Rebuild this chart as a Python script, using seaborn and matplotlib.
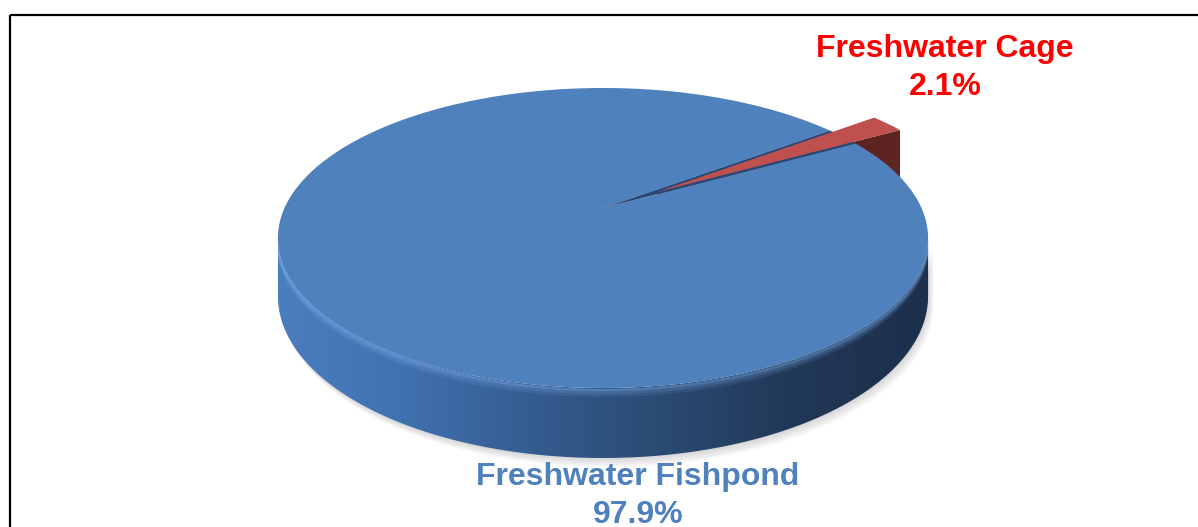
import numpy as np
import matplotlib
matplotlib.use("Agg")
import matplotlib.pyplot as plt
import seaborn as sns
from matplotlib.patches import Polygon, Rectangle
from matplotlib.colors import LinearSegmentedColormap

# ---------------- data ----------------
categories = ["Freshwater Fishpond", "Freshwater Cage"]
shares = [97.9, 2.1]
slice_colors = ["#4F81BD", "#C0504D"]
label_colors = ["#4F81BD", "#FF0000"]

# ---------------- style ----------------
sns.set_theme(style="white")
plt.rcParams['font.family'] = ['Liberation Sans', 'DejaVu Sans']

fig = plt.figure(figsize=(11.98, 5.27), dpi=100)
ax = fig.add_axes([0, 0, 1, 1])
ax.set_xlim(0, 1198)
ax.set_ylim(527, 0)
ax.axis('off')

# perspective projection of a unit disk (u right, v away from viewer)
CX, CY = 603, 208
A, B, K = 318.5, 144.0, 0.2
DEPTH = 56.0


def proj(u, v, z=0.0):
    u = np.asarray(u, float)
    v = np.asarray(v, float)
    w = 1 + K * v
    return CX + A * u / w, CY - B * v / w + z * DEPTH / w


def arc(t0, t1, off=(0.0, 0.0), z=0.0, n=200):
    t = np.radians(np.linspace(t0, t1, n))
    x, y = proj(off[0] + np.cos(t), off[1] + np.sin(t), z)
    return np.column_stack([x, y])


total = sum(shares)
spans = [360.0 * s / total for s in shares]
cage_start = 29.5
cage_end = cage_start + spans[1]
pond_start, pond_end = cage_end, cage_start + 360.0
explode = 0.21
bis = np.radians((cage_start + cage_end) / 2)
off = (explode * np.cos(bis), explode * np.sin(bis))

# silhouette angles of the front wall
t_sil = np.degrees(np.arcsin(-K))
front_t0, front_t1 = t_sil, -180 - t_sil

# ---- shadow ----
top_front = arc(front_t0, front_t1)
bot_front = arc(front_t0, front_t1, z=1.0)
side_poly = np.vstack([top_front, bot_front[::-1]])
for d in range(1, 10):
    ax.add_patch(Polygon(side_poly + np.array([d * 0.6, d]), closed=True,
                         facecolor='#7f7f7f', edgecolor='none', alpha=0.035))

# ---- red radial face (visible cut face) ----
tv = np.array(proj(off[0], off[1], 0.0))
bv = np.array(proj(off[0], off[1], 1.0))
cs = np.radians(cage_start)
tr = np.array(proj(off[0] + np.cos(cs), off[1] + np.sin(cs), 0.0))
br = np.array(proj(off[0] + np.cos(cs), off[1] + np.sin(cs), 1.0))
ax.add_patch(Polygon([tv, tr, br, bv], closed=True, facecolor='#5e2421', edgecolor='none'))

# ---- blue side with horizontal gradient ----
side_patch = Polygon(side_poly, closed=True, facecolor='none', edgecolor='none')
ax.add_patch(side_patch)
cmap = LinearSegmentedColormap.from_list(
    'side', [(0.0, '#4b7ebe'), (0.19, '#4071b0'), (0.5, '#2f527f'),
             (0.8, '#213756'), (1.0, '#1d304c')])
grad = np.linspace(0, 1, 512)[None, :]
xmin, xmax = side_poly[:, 0].min(), side_poly[:, 0].max()
im = ax.imshow(grad, cmap=cmap, extent=(xmin, xmax, 480, 200), aspect='auto',
               interpolation='bilinear', zorder=1)
im.set_clip_path(side_patch)

# soft bevel highlight on the upper part of the side wall
for zz, a in [(0.03, 0.45), (0.07, 0.25), (0.11, 0.12)]:
    t = np.radians(np.linspace(front_t0 - 1, front_t1 + 1, 300))
    hx, hy = proj(np.cos(t), np.sin(t), zz)
    ln, = ax.plot(hx, hy, color='#7fb0ec', lw=2.0, alpha=a, zorder=1.5)
    ln.set_clip_path(side_patch)

# ---- blue top face with notch ----
cx0, cy0 = proj(0.0, 0.0)
pond_top = np.vstack([[cx0, cy0], arc(pond_start, pond_end, n=600)])
ax.add_patch(Polygon(pond_top, closed=True, facecolor=slice_colors[0],
                     edgecolor='none', zorder=2))

# notch (inner wall seen through the gap)
notch = np.vstack([[cx0, cy0], arc(cage_start, cage_end, n=40)])
ax.add_patch(Polygon(notch, closed=True, facecolor='#284878', edgecolor='none', zorder=3))

# ---- red exploded top face ----
cage_top = np.vstack([tv, arc(cage_start, cage_end, off=off, n=40)])
ax.add_patch(Polygon(cage_top, closed=True, facecolor=slice_colors[1],
                     edgecolor='none', zorder=4))

# ---- labels ----
label_pos = {"Freshwater Fishpond": (638, 485), "Freshwater Cage": (945, 57)}
for name, val, col in zip(categories, shares, label_colors):
    x, y = label_pos[name]
    ax.text(x, y, name, ha='center', va='baseline', fontsize=23,
            fontweight='bold', color=col, zorder=6)
    ax.text(x, y + 38, f"{val:.1f}%", ha='center', va='baseline', fontsize=23,
            fontweight='bold', color=col, zorder=6)

# ---- chart frame ----
ax.add_patch(Rectangle((10, 15), 1500, 800, fill=False, edgecolor='black',
                       lw=1.6, zorder=7))

fig.savefig("out.png", dpi=100)
